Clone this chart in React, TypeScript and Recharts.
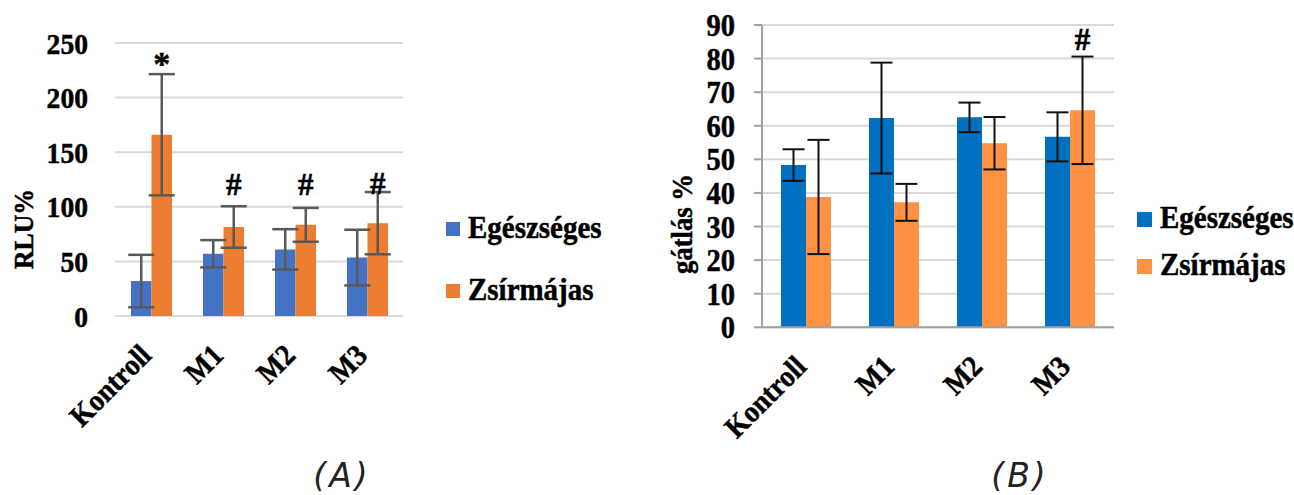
import React from 'react';
import { BarChart, Bar, XAxis, YAxis, CartesianGrid, ErrorBar, LabelList, Legend } from 'recharts';

const categories = ['Kontroll', 'M1', 'M2', 'M3'];
const seriesNames = ['Egészséges', 'Zsírmájas'];

// Panel A (RLU%)
const healthyA = [32, 57, 61, 53.5];
const healthyErrA = [24, 12.5, 18.5, 25.5];
const fattyA = [166, 81.5, 83.5, 85];
const fattyErrA = [55.5, 19, 15.5, 28.5];
const marksA = ['*', '#', '#', '#'];
const markPosA = [221, 111, 111, 112];
const ticksA = [0, 50, 100, 150, 200, 250];

// Panel B (gátlás %)
const healthyB = [48.3, 62.3, 62.5, 56.7];
const healthyErrB = [4.7, 16.5, 4.4, 7.3];
const fattyB = [38.8, 37.2, 54.8, 64.6];
const fattyErrB = [17, 5.5, 7.8, 16];
const marksB = ['', '', '', '#'];
const markPosB = [0, 0, 0, 82.5];
const ticksB = [0, 10, 20, 30, 40, 50, 60, 70, 80, 90];

const panelLabels = ['(A)', '(B)'];

const build = (h: number[], he: number[], f: number[], fe: number[], m: string[], mp: number[]) =>
  categories.map((c, i) => ({ cat: c, healthy: h[i], healthyErr: he[i], fatty: f[i], fattyErr: fe[i], mark: m[i], markPos: mp[i] }));

const dataA = build(healthyA, healthyErrA, fattyA, fattyErrA, marksA, markPosA);
const dataB = build(healthyB, healthyErrB, fattyB, fattyErrB, marksB, markPosB);

const SERIF = '"Liberation Serif", "Times New Roman", serif';
const SX = 0.92;
const BOLD = { fontFamily: SERIF, fontWeight: 'bold' as const, fill: '#000', stroke: '#000', strokeWidth: 0.5 };

const makeMark = (data: any[], fontSize: number) => (props: any) => {
  const vb = props.viewBox || props;
  const d = data.find((r) => r.cat === props.value);
  if (!d || !d.mark) return null;
  const top = Math.min(vb.y, vb.y + vb.height);
  const h = Math.abs(vb.height);
  const bottom = top + h;
  const ty = bottom - (d.markPos * h) / d.fatty;
  return (
    <text x={vb.x + vb.width / 2} y={ty} textAnchor="middle" fontSize={d.mark === '*' ? fontSize + 3 : fontSize} {...BOLD}>
      {d.mark}
    </text>
  );
};

const XTick = (props: any) => {
  const { x, y, payload } = props;
  return (
    <g transform={`translate(${x + 2},${y + 33}) rotate(-45) scale(${SX},1)`}>
      <text textAnchor="end" fontSize={30} {...BOLD}>
        {payload.value}
      </text>
    </g>
  );
};

const makeYTick = (fs: number) => (props: any) => {
  const { x, y, payload } = props;
  return (
    <g transform={`translate(${x},${y}) scale(${SX},1)`}>
      <text textAnchor="end" dy="0.355em" fontSize={fs} {...BOLD}>
        {payload.value}
      </text>
    </g>
  );
};

const makeLegend = (cfg: { sq: number; rowGap: number; textX: number; sqX: number; sqY: number; base: number }) => (props: any) => {
  const payload = props.payload || [];
  return (
    <svg width={200} height={130} style={{ overflow: 'visible' }}>
      {payload.map((p: any, i: number) => (
        <g key={i}>
          <rect x={cfg.sqX} y={cfg.sqY + i * cfg.rowGap} width={cfg.sq} height={cfg.sq} fill={p.color} />
          <g transform={`translate(${cfg.textX},${cfg.base + i * cfg.rowGap}) scale(${SX},1)`}>
            <text fontSize={31.5} {...BOLD}>
              {p.value}
            </text>
          </g>
        </g>
      ))}
    </svg>
  );
};

const makeYLabel = (text: string, bx: number, cy: number, fs: number) => () => (
  <g transform={`translate(${bx},${cy}) rotate(-90) scale(${SX},1)`}>
    <text textAnchor="middle" fontSize={fs} {...BOLD}>
      {text}
    </text>
  </g>
);

export default function App() {
  return (
    <div style={{ position: 'absolute', left: 0, top: 0, width: 1294, height: 495, background: '#fff', fontFamily: SERIF }}>
      <div style={{ position: 'absolute', left: 0, top: 0 }}>
        <BarChart width={640} height={495} data={dataA} margin={{ top: 43, right: 237, bottom: 79, left: 0 }} barGap={0}>
          <CartesianGrid vertical={false} stroke="#d9d9d9" strokeWidth={2} />
          <XAxis dataKey="cat" axisLine={false} tickLine={false} height={100} tick={<XTick />} interval={0} />
          <YAxis
            width={115}
            domain={[0, 250]}
            ticks={ticksA}
            interval={0}
            axisLine={false}
            tickLine={false}
            tickSize={6}
            tickMargin={21}
            tick={makeYTick(30)}
            label={{ content: makeYLabel('RLU%', 33, 229, 28) } as any}
          />
          <Legend
            layout="vertical"
            align="center"
            verticalAlign="middle"
            wrapperStyle={{ left: 440, top: 200, width: 200, height: 130 }}
            content={makeLegend({ sq: 14, rowGap: 62, textX: 28, sqX: 6, sqY: 22, base: 38 })}
          />
          <Bar dataKey="healthy" name={seriesNames[0]} fill="#4472C4" barSize={20.5} isAnimationActive={false}>
            <ErrorBar dataKey="healthyErr" width={13} strokeWidth={2.5} stroke="#595959" isAnimationActive={false} />
          </Bar>
          <Bar dataKey="fatty" name={seriesNames[1]} fill="#ED7D31" barSize={20.5} isAnimationActive={false}>
            <ErrorBar dataKey="fattyErr" width={13} strokeWidth={2.5} stroke="#595959" isAnimationActive={false} />
            <LabelList dataKey="cat" content={makeMark(dataA, 31)} />
          </Bar>
        </BarChart>
      </div>
      <div style={{ position: 'absolute', left: 640, top: 0 }}>
        <BarChart width={654} height={495} data={dataB} margin={{ top: 25, right: 180, bottom: 67.7, left: 0 }} barGap={0}>
          <CartesianGrid vertical={false} stroke="#d9d9d9" strokeWidth={2} />
          <XAxis dataKey="cat" axisLine={{ stroke: '#a0a0a0', strokeWidth: 2 }} tickLine={false} height={100} tick={<XTick />} interval={0} />
          <YAxis
            width={122}
            domain={[0, 90]}
            ticks={ticksB}
            interval={0}
            axisLine={{ stroke: '#a0a0a0', strokeWidth: 2 }}
            tickLine={{ stroke: '#a0a0a0', strokeWidth: 2 }}
            tickSize={8}
            tickMargin={19}
            tick={makeYTick(31)}
            label={{ content: makeYLabel('gátlás %', 52, 224, 29) } as any}
          />
          <Legend
            layout="vertical"
            align="center"
            verticalAlign="middle"
            wrapperStyle={{ left: 490, top: 200, width: 200, height: 130 }}
            content={makeLegend({ sq: 15, rowGap: 47, textX: 30, sqX: 7, sqY: 12, base: 27.7 })}
          />
          <Bar dataKey="healthy" name={seriesNames[0]} fill="#0070C0" barSize={25} isAnimationActive={false}>
            <ErrorBar dataKey="healthyErr" width={11} strokeWidth={2} stroke="#111" isAnimationActive={false} />
          </Bar>
          <Bar dataKey="fatty" name={seriesNames[1]} fill="#FF9143" barSize={25} isAnimationActive={false}>
            <ErrorBar dataKey="fattyErr" width={11} strokeWidth={2} stroke="#111" isAnimationActive={false} />
            <LabelList dataKey="cat" content={makeMark(dataB, 31)} />
          </Bar>
        </BarChart>
      </div>
      <svg width={1294} height={495} style={{ position: 'absolute', left: 0, top: 0, pointerEvents: 'none' }}>
        <text x={342} y={487} textAnchor="middle" fontFamily='"DejaVu Sans", sans-serif' fontStyle="italic" fontSize={33} letterSpacing={3} fill="#222">
          {panelLabels[0]}
        </text>
        <text x={1020} y={487} textAnchor="middle" fontFamily='"DejaVu Sans", sans-serif' fontStyle="italic" fontSize={33} letterSpacing={3} fill="#222">
          {panelLabels[1]}
        </text>
      </svg>
    </div>
  );
}
